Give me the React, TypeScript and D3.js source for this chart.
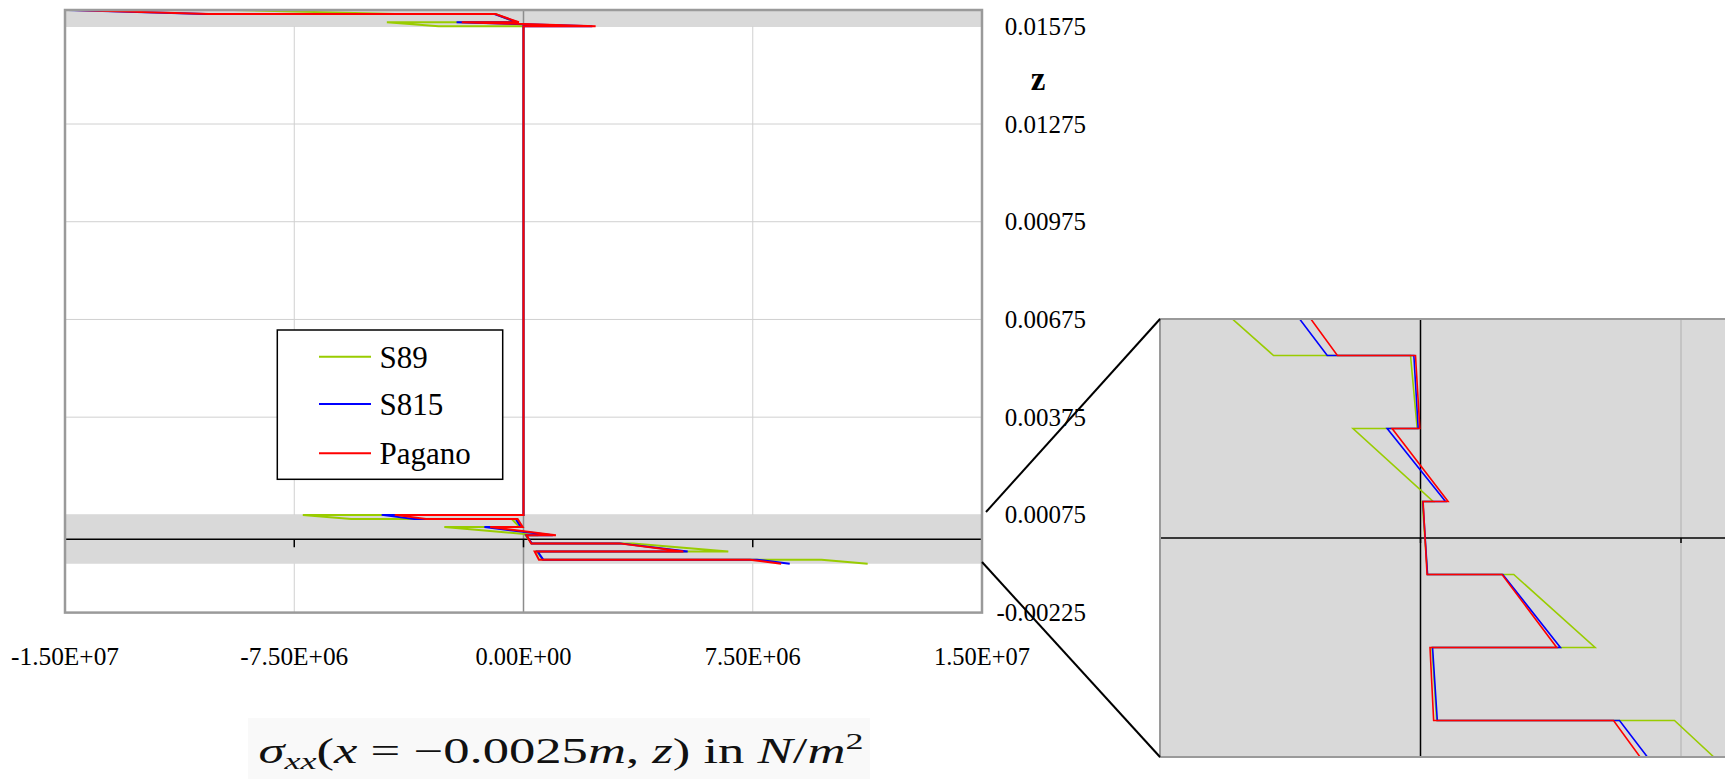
import React from 'react';
import * as d3 from 'd3';

// z positions of the polyline vertices (duplicates = jumps at ply interfaces)
const zLevels = [
  -0.00075, -0.000625, -0.000625, -0.000375, -0.000375, -0.000125, -0.000125, 0.000125,
  0.000125, 0.000375, 0.000375, 0.000625, 0.000625, 0.00075, 0.00075, 0.01575,
  0.01575, 0.015875, 0.015875, 0.016125, 0.016125, 0.01625,
];
const s89Values = [
  1.126e7, 9.75e6, 6.2e5, 4.4e5, 6.7e6, 3.58e6, 2.7e5, 6.4e4,
  4.85e5, -2.59e6, -1.28e5, -3.83e5, -5.64e6, -7.22e6, 0, 0,
  -2.78e6, -4.47e6, -2.5e5, -9.0e5, -4.2e6, -9.5e6,
];
const s815Values = [
  8.71e6, 7.64e6, 6.45e5, 4.63e5, 5.37e6, 3.16e6, 2.7e5, 9.0e4,
  9.6e5, -1.28e6, -8.9e4, -2.55e5, -3.58e6, -4.64e6, 0, 0,
  2.25e6, -2.19e6, -2.0e5, -9.5e5, -1.04e7, -1.49e7,
];
const paganoValues = [
  8.43e6, 7.41e6, 5.05e5, 3.65e5, 5.23e6, 3.13e6, 2.52e5, 1.0e5,
  1.06e6, -1.09e6, -2.6e4, -1.92e5, -3.19e6, -4.21e6, 0, 0,
  2.36e6, -2.02e6, -1.5e5, -9.2e5, -1.03e7, -1.47e7,
];
const seriesNames = ['S89', 'S815', 'Pagano'];
const seriesColors = ['#99cc00', '#0000ff', '#ff0000'];

const xTickValues = [-1.5e7, -7.5e6, 0, 7.5e6, 1.5e7];
const xTickLabels = ['-1.50E+07', '-7.50E+06', '0.00E+00', '7.50E+06', '1.50E+07'];
const zTickValues = [0.01575, 0.01275, 0.00975, 0.00675, 0.00375, 0.00075, -0.00225];
const zTickLabels = ['0.01575', '0.01275', '0.00975', '0.00675', '0.00375', '0.00075', '-0.00225'];
const faceBands = [[-0.00075, 0.00075], [0.01575, 0.01625]];
const insetXTicks = [-1e7, 0, 1e7];

const FONT = "'Liberation Serif', 'Times New Roman', serif";

export default function App() {
  const W = 1725, H = 779;
  const P = { left: 65, right: 982, top: 10, bottom: 612.6 };
  const x = d3.scaleLinear().domain([-1.5e7, 1.5e7]).range([P.left, P.right]);
  const y = d3.scaleLinear().domain([-0.00225, 0.01625]).range([P.bottom, P.top]);
  const I = { left: 1160, top: 319, bottom: 757, right: 1740 };
  const ix = d3.scaleLinear().domain([-1e7, 1e7]).range([1160, 1681]);
  const iy = d3.scaleLinear().domain([-0.00075, 0.00075]).range([757, 319]);

  const series = [s89Values, s815Values, paganoValues].map((v, i) => ({
    name: seriesNames[i], color: seriesColors[i], values: v,
  }));
  const mainLine = d3.line<number>().x((d) => x(d)).y((d, i) => y(zLevels[i]));
  const insetLine = d3.line<number>().x((d) => ix(d)).y((d, i) => iy(zLevels[i]));

  const lx0 = 319, lx1 = 371;
  const legendY = [356.7, 404, 453.3];

  return (
    <svg width={W} height={H} style={{ position: 'absolute', left: 0, top: 0, background: '#fff' }}>
      <defs>
        <clipPath id="mainClip"><rect x={P.left} y={P.top} width={P.right - P.left} height={P.bottom - P.top} /></clipPath>
        <clipPath id="insetClip"><rect x={I.left} y={I.top} width={I.right - I.left} height={I.bottom - I.top} /></clipPath>
      </defs>

      {/* main plot */}
      <rect x={P.left} y={P.top} width={P.right - P.left} height={P.bottom - P.top} fill="#fff" />
      {zTickValues.map((z, i) => (
        <line key={'hg' + i} x1={P.left} x2={P.right} y1={y(z)} y2={y(z)} stroke="#d0d0d0" strokeWidth={1} />
      ))}
      {xTickValues.map((v, i) => (
        <line key={'vg' + i} x1={x(v)} x2={x(v)} y1={P.top} y2={P.bottom} stroke="#d0d0d0" strokeWidth={1} />
      ))}
      {faceBands.map((b, i) => (
        <rect key={'band' + i} x={P.left} width={P.right - P.left} y={y(b[1])} height={y(b[0]) - y(b[1])} fill="#d9d9d9" />
      ))}
      <line x1={x(0)} x2={x(0)} y1={P.top} y2={P.bottom} stroke="#8c8c8c" strokeWidth={1.5} />
      <line x1={P.left} x2={P.right} y1={y(0)} y2={y(0)} stroke="#000" strokeWidth={1.5} />
      {xTickValues.map((v, i) => (
        <line key={'xt' + i} x1={x(v)} x2={x(v)} y1={y(0)} y2={y(0) + 8} stroke="#000" strokeWidth={1.5} />
      ))}
      <g clipPath="url(#mainClip)">
        {series.map((s) => (
          <path key={s.name} d={mainLine(s.values) || ''} fill="none" stroke={s.color} strokeWidth={2} strokeLinejoin="miter" />
        ))}
      </g>
      <rect x={P.left} y={P.top} width={P.right - P.left} height={P.bottom - P.top} fill="none" stroke="#9a9a9a" strokeWidth={2.5} />

      {/* legend */}
      <rect x={277.3} y={330} width={225.4} height={149.3} fill="#fff" stroke="#000" strokeWidth={1.5} />
      {series.map((s, i) => (
        <g key={'lg' + i}>
          <line x1={lx0} x2={lx1} y1={legendY[i]} y2={legendY[i]} stroke={s.color} strokeWidth={2} />
          <text x={379.5} y={legendY[i] + 11} fontFamily={FONT} fontSize={31} fill="#000">{s.name}</text>
        </g>
      ))}

      {/* x tick labels */}
      {xTickLabels.map((t, i) => (
        <text key={'xl' + i} x={x(xTickValues[i])} y={656} textAnchor="middle" dominantBaseline="central"
          fontFamily={FONT} fontSize={25} textLength={12 * t.length} lengthAdjust="spacingAndGlyphs" fill="#000">{t}</text>
      ))}
      {/* z tick labels */}
      {zTickLabels.map((t, i) => (
        <text key={'zl' + i} x={1086} y={y(zTickValues[i])} textAnchor="end" dominantBaseline="central"
          fontFamily={FONT} fontSize={25} fill="#000">{t}</text>
      ))}
      <text x={1038} y={79} textAnchor="middle" dominantBaseline="central" fontFamily={FONT} fontSize={33} fontWeight="bold">z</text>

      {/* inset */}
      <rect x={I.left} y={I.top} width={I.right - I.left} height={I.bottom - I.top} fill="#d9d9d9" />
      <line x1={ix(1e7)} x2={ix(1e7)} y1={I.top} y2={I.bottom} stroke="#bdbdbd" strokeWidth={1.5} />
      <line x1={ix(0)} x2={ix(0)} y1={I.top} y2={I.bottom} stroke="#000" strokeWidth={1.5} />
      <line x1={I.left} x2={I.right} y1={iy(0)} y2={iy(0)} stroke="#000" strokeWidth={1.5} />
      {insetXTicks.map((v, i) => (
        <line key={'it' + i} x1={ix(v)} x2={ix(v)} y1={iy(0)} y2={iy(0) + 5} stroke="#000" strokeWidth={1.5} />
      ))}
      <g clipPath="url(#insetClip)">
        {series.map((s) => (
          <path key={'in' + s.name} d={insetLine(s.values) || ''} fill="none" stroke={s.color} strokeWidth={1.6} />
        ))}
      </g>
      <rect x={I.left} y={I.top} width={I.right - I.left} height={I.bottom - I.top} fill="none" stroke="#9a9a9a" strokeWidth={2} />

      {/* zoom connectors */}
      <line x1={986} y1={512} x2={I.left} y2={I.top} stroke="#000" strokeWidth={2} />
      <line x1={982} y1={562} x2={I.left} y2={I.bottom} stroke="#000" strokeWidth={2} />

      {/* title */}
      <rect x={248} y={718} width={622} height={61} fill="#f9f9f9" />
      <text x={561} y={763} textAnchor="middle" fontFamily={FONT} fontSize={35} fill="#111"
        textLength={605} lengthAdjust="spacingAndGlyphs">
        <tspan fontStyle="italic">σ</tspan>
        <tspan fontStyle="italic" fontSize={24} dy={6}>xx</tspan>
        <tspan dy={-6}>(</tspan>
        <tspan fontStyle="italic">x</tspan>
        <tspan>{'\u00A0=\u00A0\u22120.0025'}</tspan>
        <tspan fontStyle="italic">m</tspan>
        <tspan>{',\u00A0'}</tspan>
        <tspan fontStyle="italic">z</tspan>
        <tspan>{')\u00A0in\u00A0'}</tspan>
        <tspan fontStyle="italic">N</tspan>
        <tspan>/</tspan>
        <tspan fontStyle="italic">m</tspan>
        <tspan fontSize={24} dy={-14}>2</tspan>
      </text>
    </svg>
  );
}
